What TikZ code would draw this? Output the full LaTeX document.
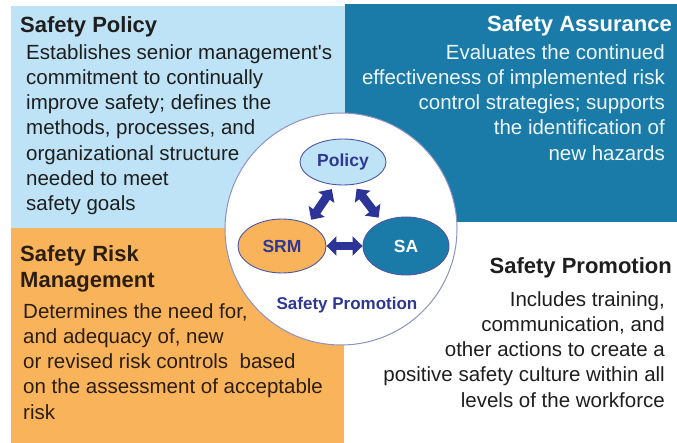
\documentclass[tikz,border=0pt]{standalone}
\usepackage{fontspec}
\setmainfont{Liberation Sans}[Ligatures=TeXOff]
\usetikzlibrary{shapes.geometric,arrows.meta}
\definecolor{lblue}{HTML}{BEE3F6}
\definecolor{dblue}{HTML}{1B7BA8}
\definecolor{orng}{HTML}{F9B45B}
\definecolor{navy}{HTML}{2E3892}
\definecolor{arrowc}{HTML}{2D3497}
\definecolor{ink}{HTML}{1E1E1E}
\definecolor{brownink}{HTML}{2B1E10}
\definecolor{satext}{HTML}{EEF7FB}
\begin{document}
\begin{tikzpicture}[x=1pt,y=-1pt,
  titlefont/.style={font=\fontsize{22}{26.5}\selectfont\bfseries, inner sep=0},
  bodyfont/.style={font=\fontsize{20.5}{25.3}\selectfont, inner sep=0},
  ell/.style={ellipse, draw=navy!85, line width=0.9pt, inner sep=0, font=\fontsize{17.5}{20}\selectfont\bfseries},
  dbl/.style={draw=arrowc, line width=8.5pt, {Triangle[width=19pt,length=10pt]}-{Triangle[width=19pt,length=10pt]}, shorten <=5pt, shorten >=5pt}
]
\useasboundingbox (0,0) rectangle (677,443);
\fill[white] (0,0) rectangle (677,443);
\fill[lblue] (11,6) rectangle (345,228);
\fill[dblue] (345,4) rectangle (677,222);
\fill[orng] (11,228) rectangle (344,443);

% texts
\node[titlefont, text=ink, anchor=base west] (sptitle) at (20,33) {Safety Policy};
\node[bodyfont, text=ink, anchor=north west, align=left] (spbody) at (26,44)
  {Establishes senior management's\\commitment to continually\\improve safety; defines the\\methods, processes, and\\organizational structure\\needed to meet\\safety goals};

\node[titlefont, text=white, anchor=base east] (satitle) at (672,32) {Safety Assurance};
\node[bodyfont, text=satext, anchor=north east, align=right] (sabody) at (665,44)
  {Evaluates the continued\\effectiveness of implemented risk\\control strategies; supports\\the identification of\\new hazards};

\node[titlefont, text=brownink, anchor=north west, align=left] (srmtitle) at (20,245)
  {Safety Risk\\Management};
\node[bodyfont, text=brownink, anchor=north west, align=left] (srmbody) at (23,303)
  {Determines the need for,\\and adequacy of, new\\or revised risk controls\ \ based\\on the assessment of acceptable\\risk};

\node[titlefont, text=ink, anchor=base east] (prtitle) at (672,274) {Safety Promotion};
\node[bodyfont, text=ink, anchor=north east, align=right] (prbody) at (665,291)
  {Includes training,\\communication, and\\other actions to create a\\positive safety culture within all\\levels of the workforce};

% central circle
\node[circle, draw=navy!55, line width=1pt, fill=white, minimum size=232pt, inner sep=0] (circ) at (341,229) {};
\node[ell, fill=lblue, minimum width=86pt, minimum height=46pt, text=navy] (policy) at (343,162) {Policy};
\node[ell, fill=orng, minimum width=88pt, minimum height=54pt, text=navy] (srm) at (282,246) {SRM};
\node[ell, fill=dblue, minimum width=86pt, minimum height=58pt, text=white] (sa) at (406,246) {SA};
\node[font=\fontsize{17}{20}\selectfont\bfseries, text=navy, inner sep=0] (splabel) at (347,305) {Safety Promotion};

\draw[dbl] (policy.250) -- (srm.40);
\draw[dbl] (policy.295) -- (sa.135);
\draw[dbl, shorten <=0pt, shorten >=0pt] (srm) -- (sa);
\end{tikzpicture}
\end{document}
